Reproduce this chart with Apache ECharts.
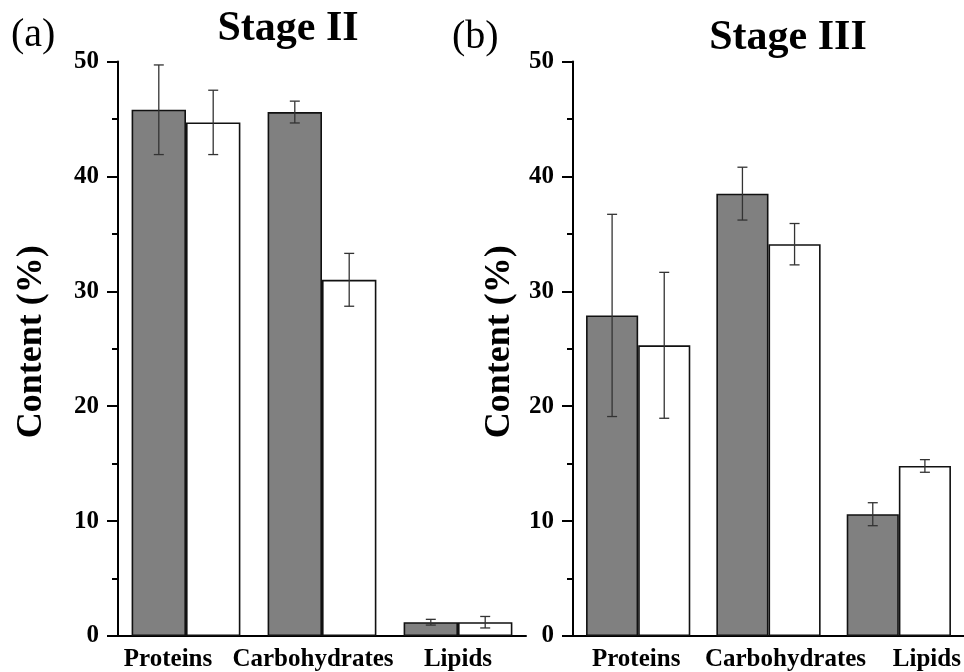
<!DOCTYPE html>
<html><head><meta charset="utf-8">
<script src="https://cdn.jsdelivr.net/npm/echarts@6/dist/echarts.min.js"></script>
<style>html,body{margin:0;padding:0;background:#fff}#c{width:964px;height:672px}</style>
</head><body><div id="c"></div>
<script>
const categories = ['Proteins', 'Carbohydrates', 'Lipids'];
const yTicks = [0, 10, 20, 30, 40, 50];
// Stage II
const stage2Dark = [45.8, 45.6, 1.2];
const stage2DarkSd = [3.9, 0.95, 0.25];
const stage2Light = [44.7, 31.0, 1.2];
const stage2LightSd = [2.8, 2.3, 0.5];
// Stage III
const stage3Dark = [27.9, 38.5, 10.6];
const stage3DarkSd = [8.8, 2.3, 1.0];
const stage3Light = [25.3, 34.1, 14.8];
const stage3LightSd = [6.35, 1.8, 0.55];

const FONT = '"Liberation Serif", "Times New Roman", serif';
const chart = echarts.init(document.getElementById('c'));

// per-label horizontal nudges (styling only): [left pad, right pad]
const labelPads = [
  [[0, 36], [0, 18], [0, 0]],
  [[0, 4], [34, 0], [56, 0]]
];

function xAxisCfg(gi) {
  const rich = {};
  labelPads[gi].forEach((p, i) => {
    rich['l' + i] = { fontFamily: FONT, fontWeight: 'bold', fontSize: 25, color: '#000', padding: [0, p[1], 0, p[0]] };
  });
  return {
    type: 'category', gridIndex: gi, data: categories,
    axisLine: { lineStyle: { color: '#000', width: 2 } },
    axisTick: { alignWithLabel: true, length: 9, lineStyle: { color: '#000', width: 2 } },
    axisLabel: { interval: 0, color: '#000', fontFamily: FONT, fontWeight: 'bold', fontSize: 25, margin: 11,
      formatter: function (v, i) { return '{l' + i + '|' + v + '}'; }, rich: rich },
    splitLine: { show: false }
  };
}
function yAxisCfg(gi, gap) {
  return {
    type: 'value', gridIndex: gi, min: yTicks[0], max: yTicks[yTicks.length - 1], interval: 10,
    name: 'Content (%)', nameLocation: 'middle', nameGap: gap, nameRotate: 90,
    nameTextStyle: { color: '#000', fontFamily: FONT, fontWeight: 'bold', fontSize: 36, padding: [0, 0, 0, 14] },
    axisLine: { show: true, lineStyle: { color: '#000', width: 2 } },
    axisTick: { show: true, length: 11, lineStyle: { color: '#000', width: 2 } },
    minorTick: { show: true, splitNumber: 2, length: 6, lineStyle: { color: '#000', width: 2 } },
    axisLabel: { color: '#000', fontFamily: FONT, fontWeight: 'bold', fontSize: 25, margin: 19 },
    splitLine: { show: false }
  };
}
function barSeries(gi, values, dark) {
  return {
    type: 'bar', xAxisIndex: gi, yAxisIndex: gi, data: values,
    barGap: '0%', barCategoryGap: '20%',
    itemStyle: { color: dark ? '#808080' : '#ffffff', borderColor: '#111', borderWidth: 1.6 },
    emphasis: { disabled: true }, animation: false
  };
}
function errSeries(gi, values, sds, side) {
  return {
    type: 'custom', xAxisIndex: gi, yAxisIndex: gi, z: 10, animation: false,
    data: values.map((v, i) => [i, v, sds[i]]),
    encode: { x: 0, y: 1 },
    renderItem: function (params, api) {
      const c = api.value(0), m = api.value(1), s = api.value(2);
      const band = api.size([1, 0])[0];
      const hi = api.coord([c, m + s]);
      const lo = api.coord([c, m - s]);
      const x = hi[0] + side * band * 0.2;
      const cap = 5;
      const st = { stroke: '#333', lineWidth: 1.3 };
      return { type: 'group', children: [
        { type: 'line', shape: { x1: x, y1: hi[1], x2: x, y2: lo[1] }, style: st },
        { type: 'line', shape: { x1: x - cap, y1: hi[1], x2: x + cap, y2: hi[1] }, style: st },
        { type: 'line', shape: { x1: x - cap, y1: lo[1], x2: x + cap, y2: lo[1] }, style: st }
      ] };
    }
  };
}

function label(text, x, y, size, bold) {
  return { type: 'text', x: x, y: y, style: { text: text, fontFamily: FONT, fontSize: size,
    fontWeight: bold ? 'bold' : 'normal', fill: '#000', align: bold ? 'center' : 'left', verticalAlign: 'middle' } };
}

chart.setOption({
  backgroundColor: '#fff',
  animation: false,
  grid: [
    { left: 118, top: 61.5, width: 408, height: 575 },
    { left: 573, top: 61.5, width: 400, height: 575 }
  ],
  xAxis: [xAxisCfg(0), xAxisCfg(1)],
  yAxis: [yAxisCfg(0, 68), yAxisCfg(1, 55)],
  series: [
    barSeries(0, stage2Dark, true), barSeries(0, stage2Light, false),
    errSeries(0, stage2Dark, stage2DarkSd, -1), errSeries(0, stage2Light, stage2LightSd, 1),
    barSeries(1, stage3Dark, true), barSeries(1, stage3Light, false),
    errSeries(1, stage3Dark, stage3DarkSd, -1), errSeries(1, stage3Light, stage3LightSd, 1)
  ],
  graphic: [
    label('Stage II', 288, 29, 42, true),
    label('Stage III', 788, 38, 42, true),
    label('(a)', 11, 35, 40, false),
    label('(b)', 452, 37, 40, false)
  ]
});
</script></body></html>
